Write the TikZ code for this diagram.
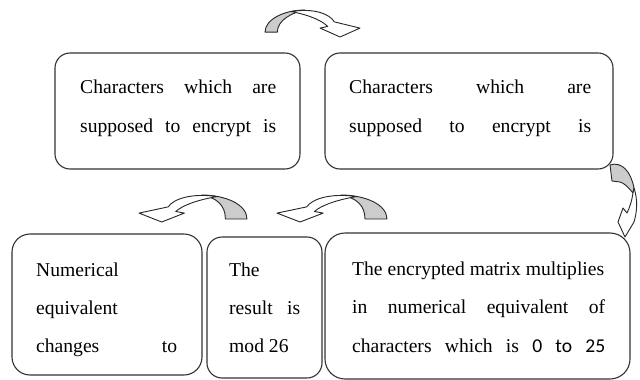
\documentclass[tikz,border=0pt]{standalone}
\usepackage{fontspec}
\setmainfont{Liberation Serif}
\newfontfamily\calib{Carlito}
\begin{document}
\begin{tikzpicture}[x=1pt,y=-1pt,
  box/.style={draw=black!80, line width=1.1pt, rounded corners=15pt, fill=white, inner sep=0pt},
  txt/.style={inner sep=0pt, anchor=base west, font=\fontsize{19.6}{24}\selectfont},
  carrow/.style={draw=black!85, line width=0.9pt, line join=round},
  backpart/.style={carrow, fill=black!20},
  frontpart/.style={carrow, fill=white}]
\useasboundingbox[fill=white] (0,0) rectangle (640,380);

% boxes
\node[box, minimum width=245pt, minimum height=116pt] (b1) at (177.5,111) {};
\node[box, minimum width=288pt, minimum height=116pt] (b2) at (469,111) {};
\node[box, minimum width=190pt, minimum height=141pt, rounded corners=18pt] (b3) at (107,304.5) {};
\node[box, minimum width=115pt, minimum height=141pt] (b4) at (264.5,307.5) {};
\node[box, minimum width=305pt, minimum height=146pt, rounded corners=20pt] (b5) at (477.5,306) {};

% texts
\node[txt] (t1a) at (80,93) {\makebox[196pt][s]{Characters which are}};
\node[txt] (t1b) at (80,132) {\makebox[196pt][s]{supposed to encrypt is}};
\node[txt] (t2a) at (349,93) {\makebox[242pt][s]{Characters which are}};
\node[txt] (t2b) at (349,132) {\makebox[242pt][s]{supposed to encrypt is}};
\node[txt] (t3a) at (36,276) {Numerical};
\node[txt] (t3b) at (36,314) {equivalent};
\node[txt] (t3c) at (36,352) {\makebox[141pt][s]{changes to}};
\node[txt] (t4a) at (229,276) {The};
\node[txt] (t4b) at (229,314) {\makebox[71pt][s]{result is}};
\node[txt] (t4c) at (229,352) {mod 26};
\node[txt] (t5a) at (352,275) {The encrypted matrix multiplies};
\node[txt] (t5b) at (352,313) {\makebox[253pt][s]{in numerical equivalent of}};
\node[txt] (t5c) at (352,352) {\makebox[253pt][s]{characters which is {\calib 0} {\calib to} {\calib 25}}};

% curved block arrows (normalised shape): #1 = inner u of tail, #2 = v of tail bottom
\newcommand{\curvedblock}[2]{%
  \path[backpart] (0,#2) .. controls (0,0.35) and (0.2,0) .. (0.42,0)
     .. controls (0.28,0.10) and (#1,0.38) .. (#1,#2) -- cycle;
  \path[frontpart] (0.28,0.06) .. controls (0.50,-0.08) and (0.68,0.13) .. (0.73,0.44)
     -- (1,0.67) -- (0.79,1) -- (0.58,0.67) -- (0.66,0.61)
     .. controls (0.60,0.40) and (0.48,0.20) .. (0.28,0.06) -- cycle;}
\begin{scope}[shift={(265,10)}, xscale=95, yscale=27]
  \curvedblock{0.13}{0.82}
\end{scope}
\begin{scope}[shift={(247,195)}, xscale=-108, yscale=27]
  \curvedblock{0.2}{0.89}
\end{scope}
\begin{scope}[shift={(387,195)}, xscale=-110, yscale=27]
  \curvedblock{0.2}{0.89}
\end{scope}

% right-side arrow
\path[backpart] (610,165) .. controls (622,161) and (631,172) .. (634,188)
   -- (633,193) .. controls (628,187) and (624,183) .. (620,182) -- (612,181) -- cycle;
\path[frontpart] (633,193) -- (634,188) .. controls (638,200) and (637,212) .. (634,222)
   -- (625,237) -- (618,222) -- (623,208) -- (627,213)
   .. controls (630,207) and (632,200) .. (633,193) -- cycle;
\end{tikzpicture}
\end{document}
